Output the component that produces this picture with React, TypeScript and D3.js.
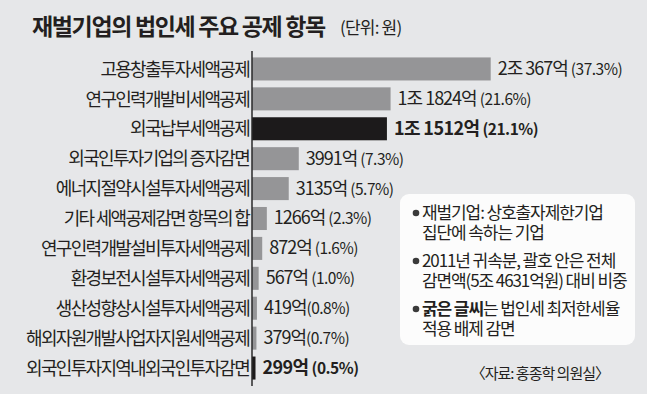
import React from "react";
import * as d3 from "d3";

const categories = [
  "고용창출투자세액공제",
  "연구인력개발비세액공제",
  "외국납부세액공제",
  "외국인투자기업의 증자감면",
  "에너지절약시설투자세액공제",
  "기타 세액공제감면 항목의 합",
  "연구인력개발설비투자세액공제",
  "환경보전시설투자세액공제",
  "생산성향상시설투자세액공제",
  "해외자원개발사업자지원세액공제",
  "외국인투자지역내외국인투자감면",
];
// 단위: 억원
const values = [20367, 11824, 11512, 3991, 3135, 1266, 872, 567, 419, 379, 299];
const amountLabels = ["2조 367억", "1조 1824억", "1조 1512억", "3991억", "3135억", "1266억", "872억", "567억", "419억", "379억", "299억"];
const shareLabels = [" (37.3%)", " (21.6%)", " (21.1%)", " (7.3%)", " (5.7%)", " (2.3%)", " (1.6%)", " (1.0%)", "(0.8%)", "(0.7%)", " (0.5%)"];
const boldFlags = [false, false, true, false, false, false, false, false, false, false, true];

const title = "재벌기업의 법인세 주요 공제 항목";
const unitLabel = "(단위: 원)";
const noteBoldParts = ["", "", "굵은 글씨"];
const noteLines = [
  ["재벌기업: 상호출자제한기업", "집단에 속하는 기업"],
  ["2011년 귀속분, 괄호 안은 전체", "감면액(5조 4631억원) 대비 비중"],
  ["는 법인세 최저한세율", "적용 배제 감면"],
];
const sourceLabel = "〈자료: 홍종학 의원실〉";

const W = 647;
const H = 394;
const FONT = "'Noto Sans CJK KR', 'Noto Sans', sans-serif";
const BG = "#e6e7e9";
const GRAY = "#959597";
const DARK = "#1c1a1b";
const TEXT = "#231f20";

export default function App() {
  const axisX = 252;
  const x = d3.scaleLinear().domain([0, 25000]).range([axisX, axisX + 293]);
  const y = d3
    .scaleBand<string>()
    .domain(categories)
    .range([54, 383])
    .paddingInner(0.23)
    .paddingOuter(0.115);

  const noteTop = [213, 261, 309];
  const lineGap = 20;

  return (
    <div style={{ position: "fixed", left: 0, top: 0 }}>
      <svg width={W} height={H} style={{ display: "block", fontFamily: FONT }}>
        <rect x={0} y={0} width={W} height={H} fill={BG} />
        <text x={32} y={35} fontSize={23} fontWeight={700} letterSpacing={-1.35} fill={TEXT}>
          {title}
        </text>
        <text x={340} y={34} fontSize={17} letterSpacing={-0.8} fill={TEXT}>
          {unitLabel}
        </text>

        {categories.map((c, i) => {
          const yc = (y(c) as number) + y.bandwidth() / 2;
          const bold = boldFlags[i];
          return (
            <g key={c}>
              <rect
                x={axisX}
                y={y(c)}
                width={x(values[i]) - axisX}
                height={y.bandwidth()}
                fill={bold ? DARK : GRAY}
              />
              <text
                x={249}
                y={yc}
                dy="0.37em"
                textAnchor="end"
                fontSize={18}
                letterSpacing={-1.7}
                fill={TEXT}
              >
                {c}
              </text>
              <text
                x={x(values[i]) + 7}
                y={yc}
                dy="0.37em"
                fill={TEXT}
                fontWeight={bold ? 700 : 400}
                style={{ whiteSpace: "pre" }}
              >
                <tspan fontSize={18} letterSpacing={bold ? -0.6 : -1}>{amountLabels[i]}</tspan>
                <tspan fontSize={15.5} letterSpacing={-0.5}>{shareLabels[i]}</tspan>
              </text>
            </g>
          );
        })}

        <line x1={axisX} x2={axisX} y1={51} y2={386} stroke="#2a2a2a" strokeWidth={1.5} />

        <rect x={400} y={194} width={235} height={151} rx={9} ry={9} fill="#fcfcfc" />
        {noteLines.map((lines, k) => (
          <g key={k}>
            <circle cx={416} cy={noteTop[k]} r={3.3} fill="#3a3a3a" />
            <text
              x={422}
              y={noteTop[k]}
              dy="0.37em"
              fontSize={17}
              letterSpacing={-1.1}
              fill={TEXT}
              style={{ whiteSpace: "pre" }}
            >
              {noteBoldParts[k] ? <tspan fontWeight={700}>{noteBoldParts[k]}</tspan> : null}
              <tspan>{lines[0]}</tspan>
              <tspan x={422} dy={lineGap}>{lines[1]}</tspan>
            </text>
          </g>
        ))}

        <text x={609} y={373} dy="0.37em" textAnchor="end" fontSize={15} letterSpacing={-1} fill={TEXT}>
          {sourceLabel}
        </text>
      </svg>
    </div>
  );
}
